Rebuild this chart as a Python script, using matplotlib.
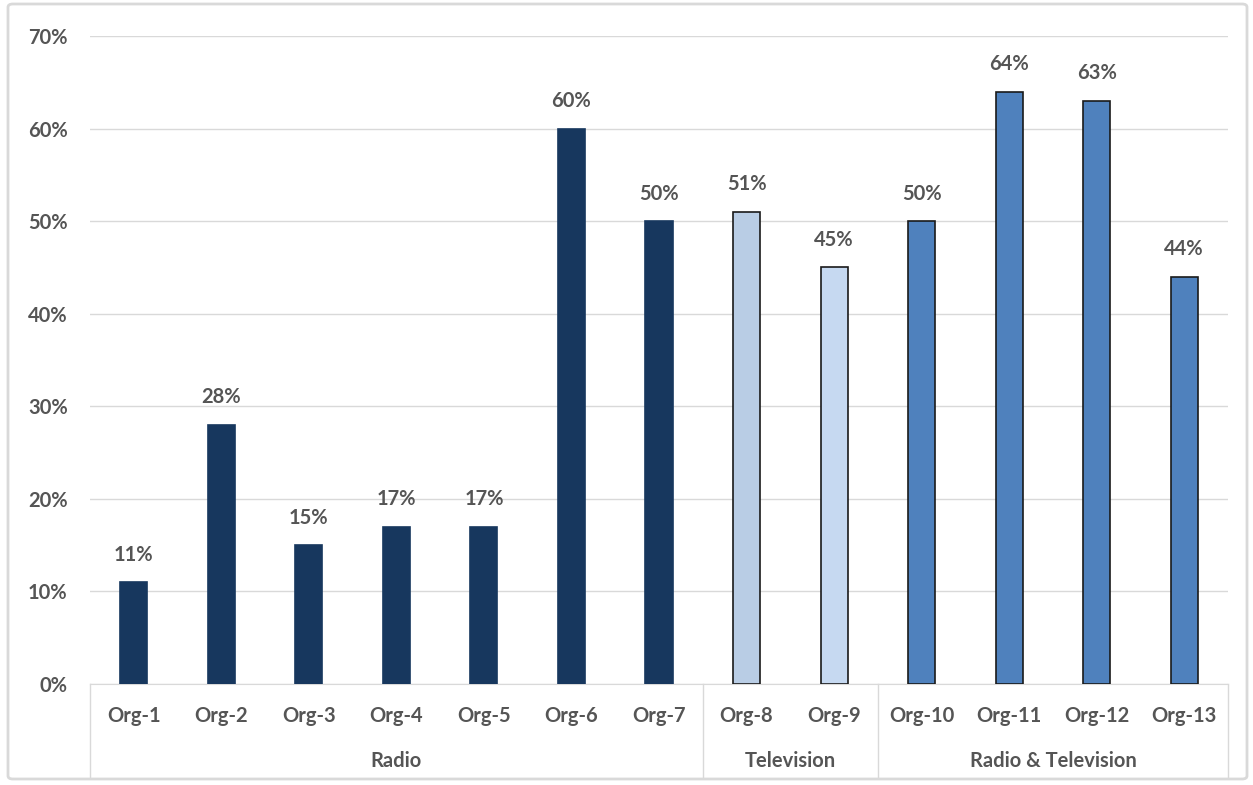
import matplotlib
matplotlib.use("Agg")
import matplotlib.pyplot as plt
from matplotlib.patches import FancyBboxPatch
from matplotlib.lines import Line2D

categories = ["Org-1", "Org-2", "Org-3", "Org-4", "Org-5", "Org-6", "Org-7",
              "Org-8", "Org-9", "Org-10", "Org-11", "Org-12", "Org-13"]
values = [11, 28, 15, 17, 17, 60, 50, 51, 45, 50, 64, 63, 44]
groups = ["Radio", "Television", "Radio & Television"]
group_sizes = [7, 2, 4]
bar_colors = ["#17375E"] * 7 + ["#B9CDE5", "#C6D9F1"] + ["#4F81BD"] * 4
edge_colors = ["#17375E"] * 7 + ["#1a1a1a"] * 6
y_ticks = [0, 10, 20, 30, 40, 50, 60, 70]

plt.rcParams['font.family'] = ['Lato', 'DejaVu Sans']
W, H = 1253, 785
fig = plt.figure(figsize=(W / 100, H / 100), dpi=100)
txt = "#555555"
fs = 14.5

# outer chart border
fig.patches.append(FancyBboxPatch((8 / W, 6 / H), (W - 14) / W, (H - 10) / H,
                                  boxstyle="round,pad=0,rounding_size=0.004",
                                  transform=fig.transFigure, fill=False,
                                  edgecolor="#D9D9D9", linewidth=2))

left, right = 90 / W, 1228 / W
bottom, top = 1 - 684 / H, 1 - 36 / H
ax = fig.add_axes([left, bottom, right - left, top - bottom])

x = list(range(len(categories)))
ax.bar(x, values, width=0.31, color=bar_colors, edgecolor=edge_colors,
       linewidth=1.2, zorder=3)
for xi, v in zip(x, values):
    ax.text(xi, v + 1.9, f"{v}%", ha="center", va="bottom", fontsize=fs,
            fontweight="bold", color=txt)

ax.set_xlim(-0.5, len(categories) - 0.5)
ax.set_ylim(0, 70)
ax.set_yticks(y_ticks)
ax.set_yticklabels([f"{t}%" for t in y_ticks], fontsize=fs,
                   fontweight="bold", color=txt)
ax.tick_params(axis="y", length=0, pad=16)
ax.set_xticks(x)
ax.set_xticklabels(categories, fontsize=fs, fontweight="bold", color=txt)
ax.tick_params(axis="x", length=0, pad=16)
ax.grid(axis="y", color="#D9D9D9", linewidth=1, zorder=0)
for s in ["top", "right", "left"]:
    ax.spines[s].set_visible(False)
ax.spines["bottom"].set_color("#D9D9D9")

# group separators and labels
trans = ax.get_xaxis_transform()
line_bottom = -(777 - 684) / (684 - 36)
start = -0.5
bounds = [start]
for g, n in zip(groups, group_sizes):
    end = start + n
    ax.text((start + end) / 2, -(761 - 684) / (684 - 36), g, transform=trans,
            ha="center", va="center", fontsize=fs, fontweight="bold", color=txt)
    bounds.append(end)
    start = end
for b in bounds:
    ax.add_line(Line2D([b, b], [0, line_bottom], transform=trans,
                       color="#D9D9D9", linewidth=1, clip_on=False))

fig.savefig("out.png", dpi=100)
